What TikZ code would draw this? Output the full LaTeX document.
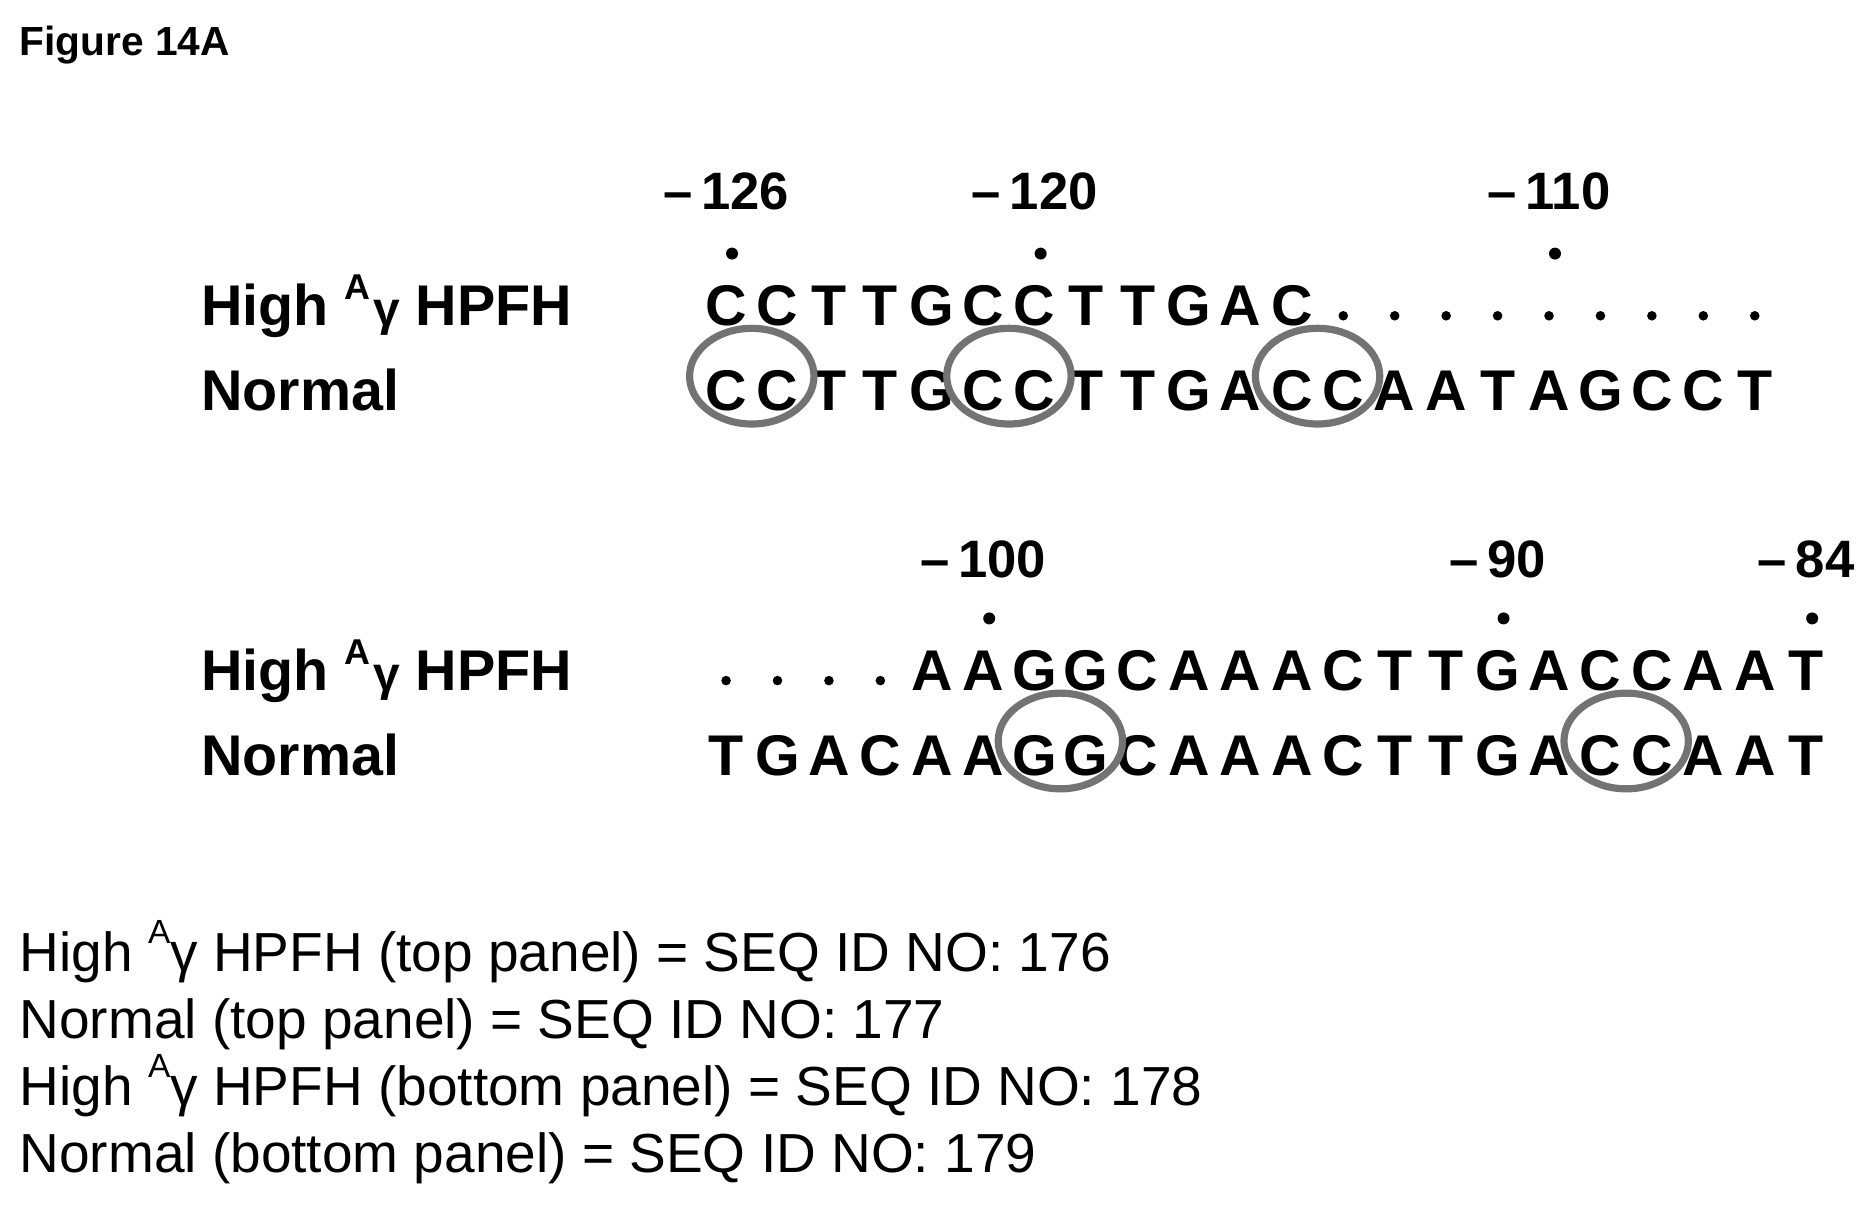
\documentclass[tikz,border=0pt]{standalone}
\usepackage{fontspec}
\setmainfont{Liberation Sans}
\usetikzlibrary{calc}
\tikzset{
  basetext/.style={inner sep=0pt, anchor=base},
  seq/.style={basetext, font=\bfseries\fontsize{24}{24}\selectfont},
  lbl/.style={anchor=base west, inner sep=0pt, font=\bfseries\fontsize{24}{24}\selectfont},
  posnum/.style={basetext, font=\bfseries\fontsize{22}{22}\selectfont},
  seqid/.style={anchor=base west, inner sep=0pt, font=\fontsize{23}{27}\selectfont},
  dotm/.style={circle, fill=black, inner sep=0pt, minimum size=5pt},
  ring/.style={draw=black!55, line width=3pt},
}
\begin{document}
\begin{tikzpicture}[x=0.5pt, y=-0.5pt]
  \useasboundingbox (0,0) rectangle (1560,1007);
  \node[anchor=base west, inner sep=0pt, font=\bfseries\fontsize{17}{17}\selectfont] (title) at (16,46) {Figure 14A};

  % top panel
  \node[lbl] (thigh) at (168,272) {High \raisebox{0.45em}{\fontsize{15}{15}\selectfont A}\kern1pt{\fontsize{20}{20}\selectfont γ} HPFH};
  \node[lbl] (tnorm) at (168,343) {Normal};
  \foreach \b [count=\i] in {C,C,T,T,G,C,C,T,T,G,A,C}
    \node[seq] (th\i) at (607+43*\i-43,272) {\b};
  \foreach \i in {13,...,21}
    \node[dotm, minimum size=4pt] (th\i) at (607+43*\i-43,264) {};
  \foreach \b [count=\i] in {C,C,T,T,G,C,C,T,T,G,A,C,C,A,A,T,A,G,C,C,T}
    \node[seq] (tn\i) at (607+43*\i-43,343) {\b};
  \foreach \p/\t in {1/126,7/120,17/110} {
    \node[posnum] (tp\p) at (607+43*\p-43,175) {--\,\t};
    \node[dotm] (td\p) at (612+43*\p-43,212) {};
  }
  \foreach \a/\b in {1/2,6/7,12/13}
    \draw[ring] ($(tn\a)!0.5!(tn\b)+(0,-12)$) ellipse (26pt and 20pt);

  % bottom panel
  \node[lbl] (bhigh) at (168,577) {High \raisebox{0.45em}{\fontsize{15}{15}\selectfont A}\kern1pt{\fontsize{20}{20}\selectfont γ} HPFH};
  \node[lbl] (bnorm) at (168,648) {Normal};
  \foreach \i in {1,...,4}
    \node[dotm, minimum size=4pt] (bh\i) at (607+43*\i-43,569) {};
  \foreach \b [count=\i from 5] in {A,A,G,G,C,A,A,A,C,T,T,G,A,C,C,A,A,T}
    \node[seq] (bh\i) at (607+43*\i-43,577) {\b};
  \foreach \b [count=\i] in {T,G,A,C,A,A,G,G,C,A,A,A,C,T,T,G,A,C,C,A,A,T}
    \node[seq] (bn\i) at (607+43*\i-43,648) {\b};
  \foreach \p/\t in {6/100,16/90,22/84} {
    \node[posnum] (bp\p) at (607+43*\p-43,483) {--\,\t};
    \node[dotm] (bd\p) at (612+43*\p-43,517) {};
  }
  \foreach \a/\b in {7/8,18/19}
    \draw[ring] ($(bn\a)!0.5!(bn\b)+(0,-12)$) ellipse (26pt and 20pt);

  % legend
  \node[seqid] (l1) at (16,812) {High \raisebox{0.5em}{\fontsize{14}{14}\selectfont A}γ HPFH (top panel) = SEQ ID NO: 176};
  \node[seqid] (l2) at (16,868) {Normal (top panel) = SEQ ID NO: 177};
  \node[seqid] (l3) at (16,924) {High \raisebox{0.5em}{\fontsize{14}{14}\selectfont A}γ HPFH (bottom panel) = SEQ ID NO: 178};
  \node[seqid] (l4) at (16,980) {Normal (bottom panel) = SEQ ID NO: 179};
\end{tikzpicture}
\end{document}
